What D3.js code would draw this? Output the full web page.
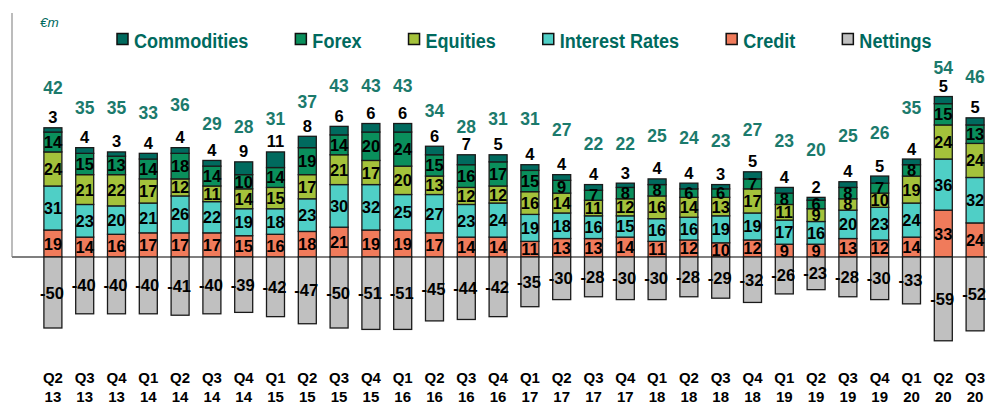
<!DOCTYPE html>
<html>
<head>
<meta charset="utf-8">
<script src="https://cdn.jsdelivr.net/npm/d3@7"></script>
<style>
  html, body { margin: 0; padding: 0; background: #fff; }
  svg { display: block; }
  text { font-family: "Liberation Sans", Arial, sans-serif; }
</style>
</head>
<body>
<svg id="chart" width="987" height="403"></svg>
<script>
// Quarterly P&L breakdown by risk class (€m)
const quarters = ["Q2 13","Q3 13","Q4 13","Q1 14","Q2 14","Q3 14","Q4 14","Q1 15","Q2 15","Q3 15",
                  "Q4 15","Q1 16","Q2 16","Q3 16","Q4 16","Q1 17","Q2 17","Q3 17","Q4 17","Q1 18",
                  "Q2 18","Q3 18","Q4 18","Q1 19","Q2 19","Q3 19","Q4 19","Q1 20","Q2 20","Q3 20"];
const credit      = [19,14,16,17,17,17,15,16,18,21,19,19,17,14,14,11,13,13,14,11,12,10,12, 9, 9,13,12,14,33,24];
const interest    = [31,23,20,21,26,22,19,18,23,30,32,25,27,23,24,19,18,16,15,16,16,19,19,17,16,20,23,24,36,32];
const equities    = [24,21,22,17,12,11,14,15,17,21,17,20,13,12,12,16,14,11,12,16,14,13,17,11, 9, 8,10,19,24,24];
const forex       = [14,15,13,14,18,14,10,14,19,14,20,24,15,16,17,15, 9, 7, 8, 8, 6, 6, 7, 8, 6, 8, 7, 8,15,13];
const commodities = [ 3, 4, 3, 4, 4, 4, 9,11, 8, 6, 6, 6, 6, 7, 5, 4, 4, 4, 3, 4, 4, 3, 5, 4, 2, 4, 5, 4, 5, 5];
const nettings    = [-50,-40,-40,-40,-41,-40,-39,-42,-47,-50,-51,-51,-45,-44,-42,-35,-30,-28,-30,-30,-28,-29,-32,-26,-23,-28,-30,-33,-59,-52];
const totals      = [42,35,35,33,36,29,28,31,37,43,43,43,34,28,31,31,27,22,22,25,24,23,27,23,20,25,26,35,54,46];

const seriesNames = ["Credit","Interest Rates","Equities","Forex","Commodities"];
const legendOrder = ["Commodities","Forex","Equities","Interest Rates","Credit","Nettings"];
const colors = {
  "Commodities": "#006a5e",
  "Forex": "#0a8f5c",
  "Equities": "#a4c23b",
  "Interest Rates": "#4fcfc6",
  "Credit": "#f07b5b",
  "Nettings": "#c0c0c0"
};

const rows = quarters.map((q, i) => ({
  q,
  "Credit": credit[i],
  "Interest Rates": interest[i],
  "Equities": equities[i],
  "Forex": forex[i],
  "Commodities": commodities[i],
  nettings: nettings[i],
  total: totals[i]
}));

const svg = d3.select("#chart");
const teal = "#006a5e";

const x = d3.scaleBand()
  .domain(quarters)
  .range([37, 991])
  .paddingInner(0.434)
  .paddingOuter(0.217);

const y = d3.scaleLinear()
  .domain([-60, 120])
  .range([257 + 60 * 1.42, 257 - 120 * 1.42]);

// Position scale for the teal total labels floating above the stacks
const yTotal = d3.scaleLinear().domain([20, 49.5]).range([149, 67]).clamp(true);

// left axis line and zero line
svg.append("line")
  .attr("x1", 12).attr("x2", 12)
  .attr("y1", 13).attr("y2", y(0))
  .attr("stroke", "#a6a6a6").attr("stroke-width", 1.5);
svg.append("line")
  .attr("x1", 12).attr("x2", 987)
  .attr("y1", y(0)).attr("y2", y(0))
  .attr("stroke", "#7f7f7f").attr("stroke-width", 2);

// stacked positive bars
const stack = d3.stack().keys(seriesNames)(rows);
const layers = svg.append("g").selectAll("g")
  .data(stack)
  .join("g")
  .attr("fill", d => colors[d.key]);

layers.selectAll("rect")
  .data(d => d)
  .join("rect")
  .attr("x", d => x(d.data.q))
  .attr("y", d => y(d[1]))
  .attr("width", x.bandwidth())
  .attr("height", d => y(d[0]) - y(d[1]))
  .attr("stroke", "#1a1a1a")
  .attr("stroke-width", 1.3);

// netting bars below zero
svg.append("g").selectAll("rect")
  .data(rows)
  .join("rect")
  .attr("x", d => x(d.q))
  .attr("y", y(0))
  .attr("width", x.bandwidth())
  .attr("height", d => y(d.nettings) - y(0))
  .attr("fill", colors["Nettings"])
  .attr("stroke", "#1a1a1a")
  .attr("stroke-width", 1.3);

// value labels inside segments (all but commodities)
const inner = stack.filter(s => s.key !== "Commodities");
svg.append("g").selectAll("g")
  .data(inner)
  .join("g")
  .selectAll("text")
  .data(d => d)
  .join("text")
  .attr("x", d => x(d.data.q) + x.bandwidth() / 2)
  .attr("y", d => (y(d[0]) + y(d[1])) / 2 + 6)
  .attr("text-anchor", "middle")
  .attr("font-size", 16.5)
  .attr("font-weight", "bold")
  .attr("fill", "#000")
  .text(d => d[1] - d[0]);

// commodities value above each stack
const topLayer = stack[stack.length - 1];
svg.append("g").selectAll("text")
  .data(topLayer)
  .join("text")
  .attr("x", d => x(d.data.q) + x.bandwidth() / 2)
  .attr("y", d => y(d[1]) - 4.5)
  .attr("text-anchor", "middle")
  .attr("font-size", 16.5)
  .attr("font-weight", "bold")
  .attr("fill", "#000")
  .text(d => d[1] - d[0]);

// totals
svg.append("g").selectAll("text")
  .data(rows)
  .join("text")
  .attr("x", d => x(d.q) + x.bandwidth() / 2)
  .attr("y", d => yTotal(d.total) + 6.5)
  .attr("text-anchor", "middle")
  .attr("font-size", 17.5)
  .attr("font-weight", "bold")
  .attr("fill", "#1b7a6c")
  .text(d => d.total);

// netting labels
svg.append("g").selectAll("text")
  .data(rows)
  .join("text")
  .attr("x", d => x(d.q) + x.bandwidth() / 2 - 1)
  .attr("y", d => (y(0) + y(d.nettings)) / 2 + 6)
  .attr("text-anchor", "middle")
  .attr("font-size", 16.5)
  .attr("font-weight", "bold")
  .attr("fill", "#000")
  .text(d => d.nettings);

// category axis: quarter on first line, year on second
const xAxis = svg.append("g");
quarters.forEach(q => {
  const [qq, yy] = q.split(" ");
  const cx = x(q) + x.bandwidth() / 2;
  const t = xAxis.append("text")
    .attr("x", cx)
    .attr("text-anchor", "middle")
    .attr("font-size", 15)
    .attr("font-weight", "bold")
    .attr("fill", "#000");
  t.append("tspan").attr("x", cx).attr("y", 383).text(qq);
  t.append("tspan").attr("x", cx).attr("y", 401.5).text(yy);
});

// unit label
svg.append("text")
  .attr("x", 40).attr("y", 27)
  .attr("font-size", 13.5)
  .attr("font-style", "italic")
  .attr("fill", teal)
  .text("€m");

// legend (condensed bold type)
const legend = svg.append("g");
const squeeze = 0.86;
let lx = 117;
legendOrder.forEach(name => {
  legend.append("rect")
    .attr("x", lx).attr("y", 33.5)
    .attr("width", 11).attr("height", 11)
    .attr("fill", colors[name])
    .attr("stroke", "#111")
    .attr("stroke-width", 1.5);
  const g = legend.append("g")
    .attr("transform", `translate(${lx + 17},47.5) scale(${squeeze},1)`);
  const t = g.append("text")
    .attr("x", 0).attr("y", 0)
    .attr("font-size", 21)
    .attr("font-weight", "bold")
    .attr("fill", teal)
    .text(name);
  lx += 17 + t.node().getComputedTextLength() * squeeze + 47;
});
</script>
</body>
</html>
